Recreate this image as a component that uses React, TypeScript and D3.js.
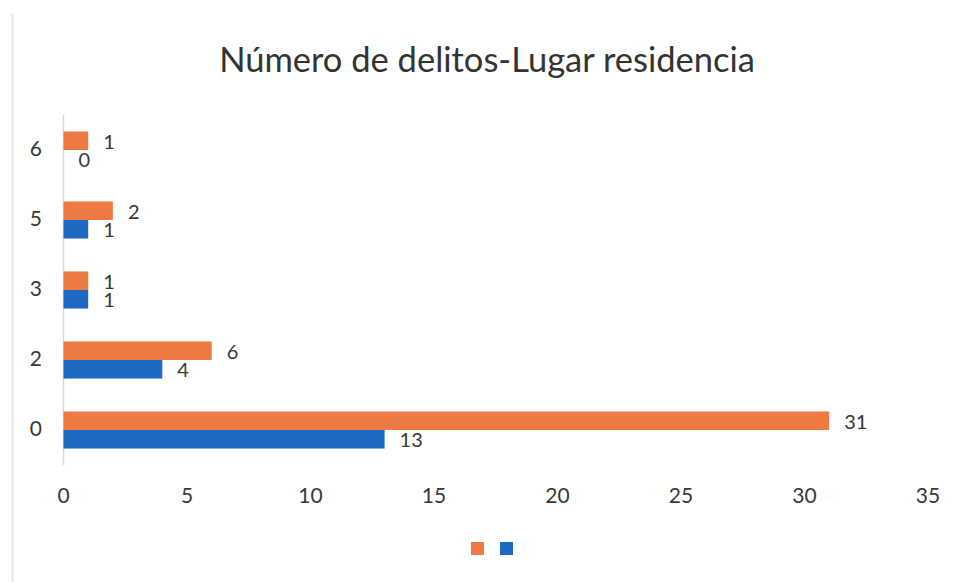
import React from "react";
import * as d3 from "d3";

// categories as shown top to bottom
const categories = ["6", "5", "3", "2", "0"];
const orangeValues = [1, 2, 1, 6, 31];
const blueValues = [0, 1, 1, 4, 13];
const xTicks = [0, 5, 10, 15, 20, 25, 30, 35];
const title = "Número de delitos-Lugar residencia";

const W = 956;
const H = 582;
const FONT = "Lato, 'Open Sans', sans-serif";

const ORANGE = "#EE7A43";
const BLUE = "#1F68C4";

export default function App(): JSX.Element {
    const x = d3.scaleLinear().domain([0, 35]).range([63.5, 928]);
    const y = d3.scaleBand()
        .domain(categories)
        .range([115, 465])
        .paddingInner(0.47)
        .paddingOuter(0.235);
    const sub = d3.scaleBand()
        .domain(["orange", "blue"])
        .range([0, y.bandwidth()]);

    const series = [
        { key: "orange", color: ORANGE, values: orangeValues },
        { key: "blue", color: BLUE, values: blueValues }
    ];

    return (
        <svg width={W} height={H} style={{ position: "absolute", left: 0, top: 0 }}>
            <rect x={0} y={0} width={W} height={H} fill="#fff" />
            {/* faint page edge from the scan */}
            <line x1={12.5} x2={12.5} y1={14} y2={H} stroke="#e3e3e3" strokeWidth={2} />

            <text x={487} y={72} textAnchor="middle" fontFamily={FONT} fontSize={34.5}
                fill="#333">{title}</text>

            {/* category axis */}
            <line x1={x(0)} x2={x(0)} y1={115} y2={465} stroke="#d9d9d9" strokeWidth={1.5} />
            {categories.map(c => (
                <text key={c} x={42} y={(y(c) as number) + y.bandwidth() / 2 + 1}
                    textAnchor="end" dominantBaseline="middle" fontFamily={FONT}
                    fontSize={21} fill="#383838">{c}</text>
            ))}

            {/* value axis labels */}
            {xTicks.map(t => (
                <text key={t} x={x(t)} y={498} textAnchor="middle" dominantBaseline="middle"
                    fontFamily={FONT} fontSize={21} fill="#383838">{t}</text>
            ))}

            {/* bars */}
            {series.map(s => (
                <g key={s.key}>
                    {categories.map((c, i) => {
                        const y0 = (y(c) as number) + (sub(s.key) as number);
                        return (
                            <g key={c}>
                                <rect x={x(0)} y={y0} width={x(s.values[i]) - x(0)}
                                    height={sub.bandwidth()} fill={s.color} />
                                <text x={x(s.values[i]) + 15} y={y0 + sub.bandwidth() / 2 + 3}
                                    dominantBaseline="middle" fontFamily={FONT} fontSize={20}
                                    fill="#383838">{s.values[i]}</text>
                            </g>
                        );
                    })}
                </g>
            ))}

            {/* legend, no labels */}
            {series.map((s, i) => (
                <rect key={s.key} x={471 + i * 29} y={542} width={13} height={13} fill={s.color} />
            ))}
        </svg>
    );
}
